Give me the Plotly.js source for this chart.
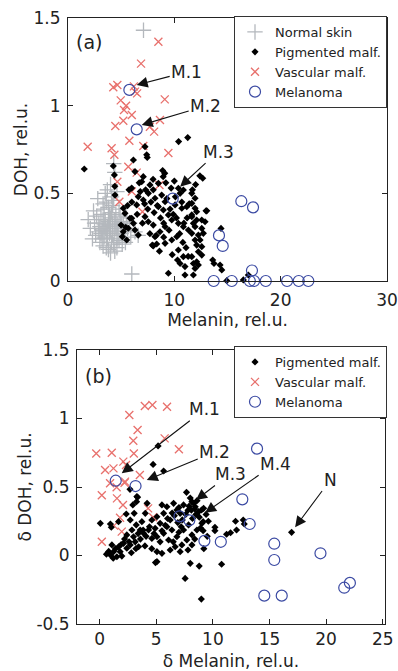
<!DOCTYPE html>
<html><head><meta charset="utf-8">
<script src="https://cdn.plot.ly/plotly-3.0.1.min.js"></script>
<style>html,body{margin:0;padding:0;background:#fff}#chart{width:398px;height:671px}</style>
</head><body><div id="chart"></div>
<script>
// ---------- Panel (a) data ----------
const normalX_a = [7.1,4.3,4.4,6.0,1.9,2.1,2.4,2.6,2.8,2.9,
 3.0,3.1,3.2,3.3,3.4,3.5,3.6,3.7,3.8,3.9,
 4.0,4.1,4.2,4.3,4.4,4.5,4.6,4.7,4.8,5.0,
 5.2,5.4,5.6,5.9,6.3,6.6,2.5,2.7,3.0,3.2,
 3.4,3.6,3.8,4.0,4.2,4.4,4.6,4.8,5.0,5.3,
 5.5,3.1,3.3,3.5,3.7,3.9,4.1,4.3,4.5,4.9,
 3.4,3.8,4.2,4.6,2.9,3.6,4.0,4.7,5.1,3.3,
 3.9,4.4,2.3,5.8,3.5,3.7,4.1,4.0,4.6,3.3];
const normalY_a = [1.43,0.67,0.62,0.04,0.35,0.30,0.40,0.26,0.47,0.33,
 0.22,0.38,0.29,0.44,0.25,0.35,0.19,0.31,0.42,0.27,
 0.36,0.22,0.33,0.46,0.28,0.38,0.24,0.32,0.41,0.27,
 0.34,0.22,0.30,0.25,0.28,0.26,0.33,0.37,0.31,0.24,
 0.32,0.28,0.34,0.29,0.26,0.35,0.30,0.23,0.33,0.29,
 0.36,0.27,0.35,0.30,0.24,0.32,0.39,0.21,0.31,0.37,
 0.41,0.18,0.43,0.19,0.28,0.45,0.16,0.27,0.21,0.20,
 0.38,0.17,0.24,0.33,0.50,0.52,0.48,0.55,0.51,0.29];

const pigX_a = [1.53,4.26,4.36,4.4,4.42,6.15,7.4,7.24,10.4,6.3,
 8.9,9.1,8.95,7.08,6.93,5.74,5.99,7.71,8.02,7.56,
 8.5,6.61,7.08,6.46,8.18,8.81,9.13,10.38,10.85,10.54,
 5.2,5.36,5.83,4.99,5.43,5.2,5.11,5.52,7.24,7.55,
 8.02,5.99,6.15,5.67,6.3,6.61,8.5,8.97,9.44,9.76,
 10.07,10.7,11.17,9.13,8.65,8.18,7.93,9.13,9.76,10.23,
 10.38,10.85,11.32,10.38,10.85,10.54,11.0,8.02,8.34,9.44,
 11.0,11.64,11.79,12.67,11.64,11.95,11.64,11.95,12.1,11.64,
 12.98,12.1,12.58,12.89,11.95,12.58,11.64,12.26,12.73,11.95,
 12.42,12.1,12.58,12.26,12.58,11.64,12.1,11.79,12.26,11.95,
 11.79,14.39,13.61,13.73,14.3,14.46,16.49,16.96,14.93,11.26,
 7.45,12.4,13.05,6.8,7.2,7.5,7.8,8.1,8.4,8.7,
 9.0,9.3,9.6,9.9,10.2,10.5,10.8,11.1,11.3,10.9,
 11.4,10.1,9.5,9.0,8.6,9.8,10.3,6.0,5.6,6.5,
 7.0,7.7,8.3,10.7,11.2,9.2,9.7,8.0,6.7,7.3,
 12.0,11.7,10.0];
const pigY_a = [0.639,0.656,0.605,0.54,0.49,0.69,0.72,0.766,0.795,0.624,
 0.63,0.614,0.595,0.595,0.566,0.52,0.53,0.548,0.52,0.5,
 0.557,0.481,0.462,0.434,0.472,0.49,0.452,0.529,0.519,0.5,
 0.415,0.386,0.358,0.319,0.306,0.281,0.253,0.234,0.367,0.338,
 0.319,0.358,0.329,0.301,0.291,0.262,0.424,0.405,0.377,0.348,
 0.434,0.415,0.424,0.31,0.281,0.253,0.205,0.215,0.234,0.253,
 0.329,0.31,0.291,0.177,0.139,0.1,0.082,0.2,0.211,0.044,
 0.034,0.367,0.329,0.586,0.5,0.472,0.443,0.415,0.395,0.377,
 0.4,0.348,0.348,0.338,0.31,0.3,0.272,0.262,0.272,0.234,
 0.234,0.205,0.196,0.167,0.148,0.139,0.11,0.1,0.091,0.072,
 0.034,0.3,0.12,0.1,0.091,0.063,0.006,0.034,0.002,0.818,
 0.705,0.6,0.4,0.51,0.44,0.41,0.45,0.39,0.43,0.36,
 0.33,0.47,0.41,0.38,0.36,0.27,0.22,0.19,0.14,0.33,
 0.44,0.48,0.29,0.25,0.17,0.15,0.12,0.45,0.43,0.38,
 0.33,0.27,0.26,0.45,0.36,0.56,0.53,0.58,0.56,0.52,
 0.55,0.52,0.57];

const vascX_a = [8.5,6.87,4.26,4.64,6.3,6.5,6.2,9.1,4.96,5.46,
 5.27,6.0,5.2,4.45,8.65,7.7,8.1,1.85,4.1,5.77,
 7.08,4.36,9.44,5.67,6.46,4.64,4.83,6.0,7.0,8.6];
const vascY_a = [1.365,1.24,1.105,1.118,1.08,1.07,1.11,1.036,1.03,1.0,
 0.975,0.947,0.914,0.884,0.918,0.88,0.852,0.766,0.757,0.8,
 0.77,0.72,0.73,0.652,0.618,0.566,0.452,0.51,0.395,0.548];

const melX_a = [5.77,6.46,9.85,16.3,17.4,14.2,14.55,17.3,13.7,15.4,17.1,17.5,18.6,20.6,21.7,22.6];
const melY_a = [1.09,0.865,0.47,0.455,0.42,0.26,0.2,0.06,0,0,0,0,0,0,0,0];

// ---------- Panel (b) data ----------
const pigX_b = [0.06,0.95,1.03,3.29,4.19,2.93,2.35,3.05,4.03,1.67,
 2.7,3.23,3.73,2.85,3.58,2.4,2.99,3.88,1.08,1.67,
 2.11,1.23,1.81,2.4,2.7,0.95,1.52,1.96,3.14,3.44,
 4.61,4.32,4.9,5.34,4.61,5.06,5.65,5.94,5.5,6.53,
 6.82,6.23,5.94,6.38,5.65,5.06,5.34,6.09,6.82,6.67,
 7.26,7.7,8.15,7.41,7.85,8.15,7.67,7.41,8.15,8.44,
 8.74,9.18,7.11,9.03,8.59,5.06,6.23,5.5,7.11,5.06,
 7.55,8.0,8.79,9.0,9.14,9.14,10.18,10.18,11.21,11.56,
 12.09,12.68,12.77,10.77,16.95,5.16,4.72,5.65,2.68,3.35,
 8.98,4.93,3.84,3.26,7.9,8.1,8.3,8.5,8.2,7.6,
 7.3,8.8,9.4,9.6,6.9,6.6,7.0,6.4,6.0,5.8,
 5.5,4.8,4.4,4.1,3.6,3.4,2.6,2.2,1.9,1.4,
 0.8,0.6,1.2,2.8,3.2,4.0,4.6,6.5,7.0,7.8,
 8.4,9.2,9.5,8.9,12.0,8.0,8.6,7.8,8.4,7.2];
const pigY_b = [0.235,0.23,0.206,0.43,0.381,0.369,0.303,0.308,0.308,0.247,
 0.259,0.223,0.247,0.186,0.186,0.15,0.137,0.162,0.077,0.064,
 0.089,0.028,0.028,0.053,0.077,0.004,-0.009,-0.004,0.1,0.064,
 0.125,0.186,0.198,0.235,0.259,0.283,0.308,0.356,0.369,0.381,
 0.332,0.259,0.21,0.186,0.162,0.137,0.1,0.113,0.137,0.064,
 0.077,0.113,0.15,0.186,0.223,0.077,0.461,0.369,0.393,0.356,
 0.32,0.344,0.308,0.235,0.186,0.028,0.04,0.016,0.028,-0.045,
 -0.167,-0.057,-0.077,0.332,0.247,0.181,0.206,0.181,0.155,0.166,
 0.186,0.259,0.23,-0.064,0.169,0.8,0.665,0.617,0.483,0.425,
 -0.318,-0.052,0.186,0.393,0.36,0.33,0.38,0.3,0.27,0.3,
 0.26,0.28,0.3,0.25,0.24,0.29,0.35,0.31,0.27,0.22,
 0.18,0.16,0.21,0.14,0.12,0.16,0.1,0.12,0.08,0.05,
 0.03,0.01,-0.02,0.02,0.05,0.07,0.05,0.1,0.17,0.04,
 0.12,0.05,0.14,0.2,0.25,0.42,0.4,0.33,0.34,0.21];

const vascX_b = [3.99,4.66,5.95,2.62,3.35,2.97,5.74,7.0,-0.3,1.07,
 3.02,2.09,2.33,0.48,1.22,3.55,0.92,1.5,2.24,0.19,
 1.53,2.06,1.8,1.27,1.95,0.19,4.28,4.72,2.2];
const vascY_b = [1.091,1.099,1.086,1.026,0.916,0.838,0.855,0.775,0.745,0.75,
 0.745,0.685,0.66,0.624,0.636,0.588,0.527,0.498,0.539,0.44,
 0.417,0.369,0.276,0.218,0.174,0.1,0.344,0.279,0.53];

const melX_b = [1.42,3.17,13.9,12.6,13.25,7.05,7.92,9.25,10.7,15.42,15.42,19.5,14.54,16.08,21.6,22.1];
const melY_b = [0.546,0.507,0.78,0.41,0.23,0.286,0.257,0.107,0.1,0.086,-0.033,0.016,-0.293,-0.293,-0.235,-0.2];

// ---------- Labels / ticks ----------
const seriesNames = ['Normal skin','Pigmented malf.','Vascular malf.','Melanoma'];
const xTicks_a = [0,10,20,30];
const yTicks_a = [0,0.5,1,1.5];
const yTickText_a = ['0','0.5','1','1.5'];
const xTicks_b = [0,5,10,15,20,25];
const yTicks_b = [-0.5,0,0.5,1,1.5];
const yTickText_b = ['-0.5','0','0.5','1','1.5'];
const annA = [{t:'M.1',x:6.46,y:1.118,ax:50,ay:-13},{t:'M.2',x:6.93,y:0.89,ax:64,ay:-19},{t:'M.3',x:10.54,y:0.538,ax:38,ay:-35}];
const annB = [{t:'M.1',x:1.95,y:0.60,ax:83,ay:-64},{t:'M.2',x:4.16,y:0.551,ax:68,ay:-28},{t:'M.3',x:8.51,y:0.405,ax:34,ay:-26},{t:'M.4',x:9.31,y:0.312,ax:70,ay:-49},{t:'N',x:17.26,y:0.206,ax:35,ay:-47}];

const FONT = 'DejaVu Sans, Liberation Sans, Arial, sans-serif';
const TXT = '#222';
const cGrey = '#b4b8bd', cRed = '#e8706c', cBlue = '#3b4aa3', cBlack = '#000';

function mk(kind){
  if(kind==='normal') return {symbol:'cross-thin-open', size:11, color:cGrey, line:{color:cGrey,width:1.3}};
  if(kind==='pig') return {symbol:'diamond', size:5.5, color:cBlack, line:{width:0}};
  if(kind==='vasc') return {symbol:'x-thin-open', size:8, color:cRed, line:{color:cRed,width:1.3}};
  return {symbol:'circle-open', size:11, color:cBlue, line:{color:cBlue,width:1.2}};
}
function tr(x,y,name,kind,xa,ya,leg,rank){
  return {type:'scatter', mode:'markers', x:x, y:y, name:name, marker:mk(kind),
    xaxis:xa, yaxis:ya, legend:leg, legendrank:rank, cliponaxis:false, hoverinfo:'skip'};
}
const data = [
  tr(normalX_a,normalY_a,seriesNames[0],'normal','x','y','legend',1),
  tr(vascX_a,vascY_a,seriesNames[2],'vasc','x','y','legend',3),
  tr(pigX_a,pigY_a,seriesNames[1],'pig','x','y','legend',2),
  tr(melX_a,melY_a,seriesNames[3],'mel','x','y','legend',4),
  tr(vascX_b,vascY_b,seriesNames[2],'vasc','x2','y2','legend2',3),
  tr(pigX_b,pigY_b,seriesNames[1],'pig','x2','y2','legend2',2),
  tr(melX_b,melY_b,seriesNames[3],'mel','x2','y2','legend2',4)
];

const W=398,H=671;
function axBase(){
  return {showline:true, linecolor:'#222', linewidth:1, mirror:'ticks', ticks:'inside', ticklen:5,
    tickcolor:'#222', showgrid:false, zeroline:false, automargin:false,
    tickfont:{family:FONT,size:17,color:TXT}};
}
const xa = Object.assign(axBase(), {domain:[68/W,387/W], anchor:'y', range:[0,30], tickmode:'array', tickvals:xTicks_a,
  ticklabelstandoff:4, title:{text:'Melanin, rel.u.', font:{family:FONT,size:17,color:TXT}, standoff:0}});
const ya = Object.assign(axBase(), {domain:[(H-281)/H,(H-18)/H], anchor:'x', range:[0,1.5], tickmode:'array', tickvals:yTicks_a, ticktext:yTickText_a,
  ticklabelstandoff:3, title:{text:'DOH, rel.u.', font:{family:FONT,size:17,color:TXT}, standoff:1}});
const xb = Object.assign(axBase(), {domain:[77/W,385/W], anchor:'y2', range:[-2,25.2], tickmode:'array', tickvals:xTicks_b,
  ticklabelstandoff:0, title:{text:'δ Melanin, rel.u.', font:{family:FONT,size:17,color:TXT}, standoff:9}});
const yb = Object.assign(axBase(), {domain:[(H-624)/H,(H-350)/H], anchor:'x2', range:[-0.5,1.5], tickmode:'array', tickvals:yTicks_b, ticktext:yTickText_b,
  ticklabelstandoff:3, title:{text:'δ DOH, rel.u.', font:{family:FONT,size:17,color:TXT}, standoff:0}});

function arrowAnn(a,xr,yr){
  return {text:a.t, x:a.x, y:a.y, xref:xr, yref:yr, ax:a.ax, ay:a.ay, showarrow:true,
    arrowhead:2, arrowsize:2, arrowwidth:1.1, arrowcolor:'#111', standoff:0,
    font:{family:FONT,size:17,color:TXT}};
}
const annotations = [];
annA.forEach(a=>annotations.push(arrowAnn(a,'x','y')));
annB.forEach(a=>annotations.push(arrowAnn(a,'x2','y2')));
annotations.push({text:'(a)', x:1.93, y:1.363, xref:'x', yref:'y', showarrow:false, font:{family:FONT,size:19,color:TXT}});
annotations.push({text:'(b)', x:-0.11, y:1.31, xref:'x2', yref:'y2', showarrow:false, font:{family:FONT,size:19,color:TXT}});

const legBase = {xanchor:'right', yanchor:'top', bordercolor:'#333', borderwidth:1, bgcolor:'#fff',
  font:{family:FONT,size:13,color:TXT}, tracegroupgap:0, itemwidth:30};
const layout = {
  width:W, height:H, margin:{l:0,r:0,t:0,b:0}, paper_bgcolor:'#fff', plot_bgcolor:'#fff',
  showlegend:true,
  xaxis:xa, yaxis:ya, xaxis2:xb, yaxis2:yb,
  legend:Object.assign({}, legBase, {x:387/W, y:(H-16)/H}),
  legend2:Object.assign({}, legBase, {x:387/W, y:(H-346)/H}),
  annotations:annotations
};
Plotly.newPlot('chart', data, layout, {displayModeBar:false, staticPlot:true});
</script></body></html>
